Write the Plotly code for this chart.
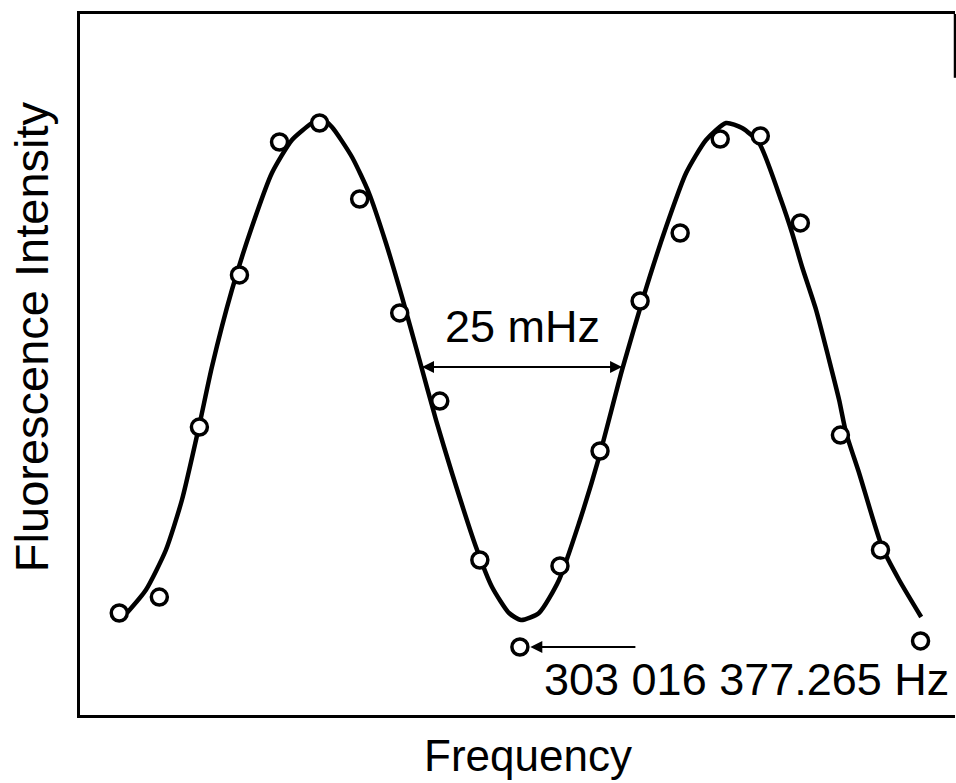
import plotly.graph_objects as go

# Measured points: frequency offset (mHz) and fluorescence intensity (arb. units)
point_freq = [-50, -45, -40, -35, -30, -25, -20, -15, -10, -5, 0,
              5, 10, 15, 20, 25, 30, 35, 40, 45, 50]
point_intensity = [14.55, 16.83, 41.08, 62.77, 81.74, 84.45, 73.61, 57.35, 44.79, 22.11, 9.70,
                   21.26, 37.66, 59.06, 68.76, 82.17, 82.60, 70.19, 39.94, 23.54, 10.56]

# Smooth fitted curve
curve_freq = [-49.05, -46.68, -44.18, -42.18, -40.06, -38.44, -35.94, -33.45, -30.95, -28.45,
              -25.96, -24.83, -23.46, -20.96, -18.84, -16.72, -14.72, -12.60, -10.47, -8.48,
              -5.48, -3.48, -1.36, 0.14, 2.38, 4.88, 7.38, 9.88, 12.75, 15.49,
              18.24, 20.74, 23.23, 25.73, 27.73, 29.85, 32.59, 33.97, 35.22, 36.97,
              38.59, 39.84, 40.71, 42.33, 45.20, 47.33, 50.08]
curve_intensity = [14.55, 17.83, 23.54, 30.67, 41.08, 49.64, 60.63, 69.61, 77.32, 82.03,
                   84.45, 85.16, 83.88, 79.60, 74.47, 67.33, 59.63, 50.93, 42.08, 34.52,
                   23.97, 18.26, 14.55, 13.55, 14.55, 19.26, 27.39, 36.80, 49.22, 59.91,
                   69.61, 77.32, 82.03, 84.45, 83.74, 81.60, 73.47, 68.76, 63.91, 57.77,
                   50.64, 44.94, 40.23, 34.52, 23.97, 19.26, 13.98]

# Annotation values
width_left, width_right, half_level = -12.22, 12.75, 49.64
width_label = "25 mHz"
center_label = "303 016 377.265 Hz"
center_arrow_tail, center_arrow_tip, center_level = 14.6, 1.3, 9.70

FONT = "Liberation Sans, Arial, sans-serif"

fig = go.Figure()
fig.add_trace(go.Scatter(x=curve_freq, y=curve_intensity, mode="lines",
                         line=dict(color="black", width=4.5, shape="spline", smoothing=0.6),
                         hoverinfo="skip", showlegend=False))
fig.add_trace(go.Scatter(x=point_freq, y=point_intensity, mode="markers",
                         marker=dict(symbol="circle", size=16, color="white",
                                     line=dict(color="black", width=3.5)),
                         showlegend=False))

# 25 mHz double arrow (two overlapping single arrows -> continuous line, heads at both ends)
for tip, tail in ((width_left, width_right), (width_right, width_left)):
    fig.add_annotation(x=tip, y=half_level, ax=tail, ay=half_level,
                       xref="x", yref="y", axref="x", ayref="y", text="",
                       showarrow=True, arrowhead=2, arrowsize=1.2, arrowwidth=2, arrowcolor="black")
fig.add_annotation(x=(width_left + width_right) / 2, y=55.4, xref="x", yref="y",
                   text=width_label, showarrow=False,
                   font=dict(family=FONT, size=45, color="black"))

# Centre frequency arrow and label
fig.add_annotation(x=center_arrow_tip, y=center_level, ax=center_arrow_tail, ay=center_level,
                   xref="x", yref="y", axref="x", ayref="y", text="",
                   showarrow=True, arrowhead=2, arrowsize=1.2, arrowwidth=2, arrowcolor="black")
fig.add_annotation(x=53.8, y=5.0, xref="x", yref="y", xanchor="right", yanchor="middle",
                   text=center_label, showarrow=False,
                   font=dict(family=FONT, size=45, color="black"))

# Axis titles
fig.add_annotation(x=0.512, y=-0.058, xref="paper", yref="paper", text="Frequency",
                   showarrow=False, xanchor="center", yanchor="middle",
                   font=dict(family=FONT, size=44, color="black"))
fig.add_annotation(x=-0.056, y=0.539, xref="paper", yref="paper", text="Fluorescence Intensity",
                   showarrow=False, textangle=-90, xanchor="center", yanchor="middle",
                   font=dict(family=FONT, size=47, color="black"))

# Short piece of the right frame edge
fig.add_shape(type="line", xref="paper", yref="paper", x0=1, x1=1, y0=1, y1=0.909,
              line=dict(color="black", width=2.5))

fig.update_layout(
    width=956, height=783,
    margin=dict(l=80, r=1, t=14, b=68),
    paper_bgcolor="white", plot_bgcolor="white",
    xaxis=dict(range=[-54.9, 54.3], showline=True, mirror=True, linecolor="black", linewidth=2.5,
               showgrid=False, zeroline=False, showticklabels=False, ticks=""),
    yaxis=dict(range=[0, 100], showline=True, mirror=False, linecolor="black", linewidth=2.5,
               showgrid=False, zeroline=False, showticklabels=False, ticks=""),
)

fig.write_html("out.html", config={"displayModeBar": False},
               post_script="document.body.style.margin='0';document.body.style.overflow='hidden';")
